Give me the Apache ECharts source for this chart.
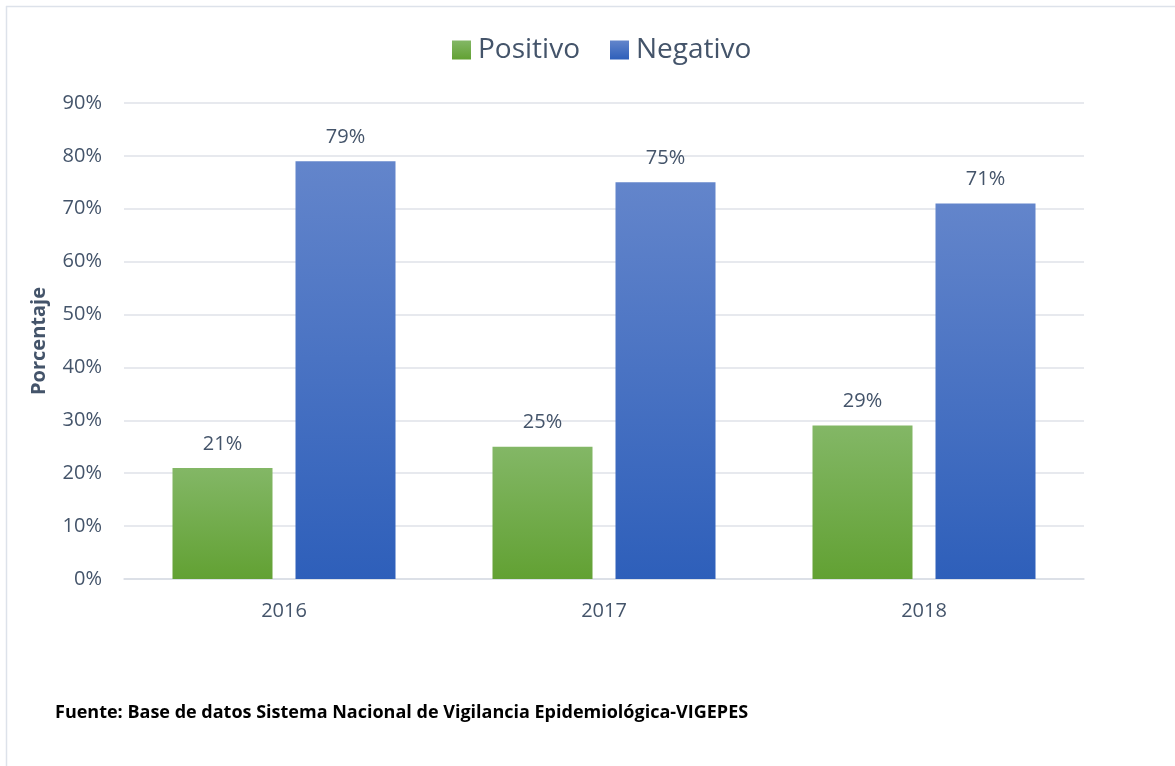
<!DOCTYPE html>
<html>
<head>
<meta charset="utf-8">
<script src="https://cdn.jsdelivr.net/npm/echarts@6/dist/echarts.min.js"></script>
<style>html,body{margin:0;padding:0;background:#fff;}#c{width:1175px;height:766px;}</style>
</head>
<body>
<div id="c"></div>
<script>
const categories = ['2016', '2017', '2018'];
const positivo = [21, 25, 29];
const negativo = [79, 75, 71];
const seriesNames = ['Positivo', 'Negativo'];
const yTicks = { min: 0, max: 90, interval: 10 };
const sourceText = 'Fuente: Base de datos Sistema Nacional de Vigilancia Epidemiológica-VIGEPES';

const FONT = '"Open Sans", "Noto Sans", sans-serif';
const TXT = '#44546a';
const greenGrad = new echarts.graphic.LinearGradient(0, 0, 0, 1, [
  { offset: 0, color: '#83b766' }, { offset: 1, color: '#62a133' }
]);
const blueGrad = new echarts.graphic.LinearGradient(0, 0, 0, 1, [
  { offset: 0, color: '#6385cb' }, { offset: 1, color: '#2e5fba' }
]);

const chart = echarts.init(document.getElementById('c'), null, { renderer: 'canvas' });
chart.setOption({
  backgroundColor: '#fff',
  animation: false,
  textStyle: { fontFamily: FONT },
  legend: {
    top: 31, left: 447,
    itemWidth: 19, itemHeight: 19, itemGap: 30,
    icon: 'rect',
    textStyle: { fontSize: 28, color: TXT, fontFamily: FONT, padding: [0, 0, 0, 2] },
    data: seriesNames
  },
  grid: { left: 124, right: 91, top: 103, bottom: 187, containLabel: false },
  xAxis: {
    type: 'category', data: categories,
    axisTick: { show: false },
    axisLine: { show: true, lineStyle: { color: '#d9dde5', width: 1.5 } },
    axisLabel: { fontSize: 20, color: TXT, margin: 22, fontFamily: FONT }
  },
  yAxis: {
    type: 'value', min: yTicks.min, max: yTicks.max, interval: yTicks.interval,
    name: 'Porcentaje', nameLocation: 'middle', nameGap: 75, nameRotate: 90,
    nameTextStyle: { fontSize: 20, fontWeight: 'bold', color: TXT, fontFamily: FONT },
    axisLine: { show: false }, axisTick: { show: false },
    axisLabel: { formatter: '{value}%', fontSize: 20, color: TXT, margin: 22, fontFamily: FONT },
    splitLine: { lineStyle: { color: '#dfe2e8', width: 1.5 } }
  },
  series: [
    {
      name: seriesNames[0], type: 'bar', data: positivo,
      barWidth: 100, barGap: '23%',
      itemStyle: { color: greenGrad },
      label: { show: true, position: 'top', distance: 14, formatter: '{c}%', fontSize: 20, color: TXT, fontFamily: FONT }
    },
    {
      name: seriesNames[1], type: 'bar', data: negativo,
      barWidth: 100,
      itemStyle: { color: blueGrad },
      label: { show: true, position: 'top', distance: 14, formatter: '{c}%', fontSize: 20, color: TXT, fontFamily: FONT }
    }
  ],
  graphic: [
    { type: 'line', shape: { x1: 6, y1: 6.5, x2: 1175, y2: 6.5 }, style: { stroke: '#dde2ea', lineWidth: 1.5 } },
    { type: 'line', shape: { x1: 6.5, y1: 6, x2: 6.5, y2: 766 }, style: { stroke: '#dde2ea', lineWidth: 1.5 } },
    { type: 'text', left: 55, top: 704, style: { text: sourceText, font: 'bold 18px ' + FONT, fill: '#000' } }
  ]
});
</script>
</body>
</html>
